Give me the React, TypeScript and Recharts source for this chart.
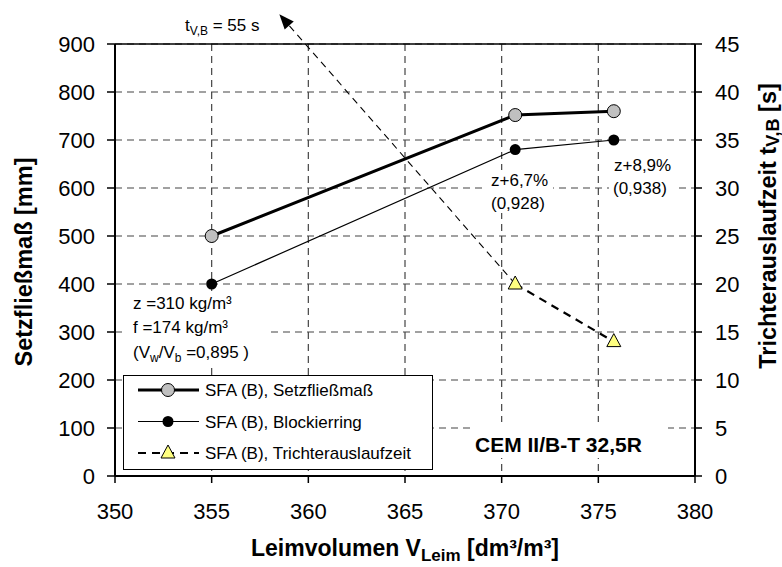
import React from "react";
import {
  ComposedChart,
  Line,
  XAxis,
  YAxis,
  CartesianGrid,
  ReferenceLine,
  Legend,
} from "recharts";

// Leimvolumen V_Leim [dm³/m³]
const leimvolumen = [355, 370.7, 375.8];
// SFA (B), Setzfließmaß [mm]
const setzfliessmass = [500, 752, 760];
// SFA (B), Blockierring [mm]
const blockierring = [400, 680, 700];
// SFA (B), Trichterauslaufzeit [s] (355: 55 s, off the scale)
const trichterauslaufzeit: (number | null)[] = [null, 20, 14];

const xTicks = [350, 355, 360, 365, 370, 375, 380];
const leftTicks = [0, 100, 200, 300, 400, 500, 600, 700, 800, 900];
const rightTicks = [0, 5, 10, 15, 20, 25, 30, 35, 40, 45];

// arrow pointing to t_V,B = 55 s (beyond the axis)
const arrowStart = { x: 370.7, y: 20 };
const arrowEnd = { x: 358.5, y: 48.1 };

const data = leimvolumen.map((v, i) => ({
  v,
  setz: setzfliessmass[i],
  block: blockierring[i],
  trichter: trichterauslaufzeit[i],
}));

const FONT = "'Liberation Sans', Arial, sans-serif";
const tick = { fontSize: 22, fill: "#000", fontFamily: FONT };

const Triangle = (p: any) => {
  if (p.cy == null || p.value == null) return <g key={p.index} />;
  const { cx, cy } = p;
  return (
    <polygon
      key={p.index}
      points={`${cx},${cy - 8} ${cx - 7},${cy + 5} ${cx + 7},${cy + 5}`}
      fill="#ffff80"
      stroke="#000"
      strokeWidth={1}
    />
  );
};

const Arrow = (p: any) => {
  const { x1, y1, x2, y2 } = p;
  const a = Math.atan2(y2 - y1, x2 - x1);
  const len = 15;
  const w = 6;
  const bx = x2 - len * Math.cos(a);
  const by = y2 - len * Math.sin(a);
  return (
    <g>
      <line x1={x1} y1={y1} x2={bx} y2={by} stroke="#000" strokeWidth={1.1} strokeDasharray="7 5" />
      <polygon
        points={`${x2},${y2} ${bx + w * Math.sin(a)},${by - w * Math.cos(a)} ${bx - w * Math.sin(a)},${by + w * Math.cos(a)}`}
        fill="#000"
      />
    </g>
  );
};

const legendItems = [
  { label: "SFA (B), Setzfließmaß", width: 3, dash: undefined, marker: "gray" },
  { label: "SFA (B), Blockierring", width: 1.2, dash: undefined, marker: "black" },
  { label: "SFA (B), Trichterauslaufzeit", width: 2.2, dash: "8 6", marker: "tri" },
];

function LegendBox() {
  return (
    <svg width={310} height={95} style={{ display: "block" }}>
      <rect x={0.5} y={0.5} width={309} height={94} fill="#fff" stroke="#000" strokeWidth={1} />
      {legendItems.map((it, i) => {
        const y = 15 + i * 31.5;
        return (
          <g key={it.label}>
            <line x1={15} x2={76} y1={y} y2={y} stroke="#000" strokeWidth={it.width} strokeDasharray={it.dash} />
            {it.marker === "gray" && <circle cx={45} cy={y} r={6.5} fill="#c0c0c0" stroke="#000" />}
            {it.marker === "black" && <circle cx={45} cy={y} r={5.5} fill="#000" />}
            {it.marker === "tri" && (
              <polygon points={`45,${y - 8} 38,${y + 5} 52,${y + 5}`} fill="#ffff80" stroke="#000" />
            )}
            <text x={82} y={y + 6} fontSize={17} fontFamily={FONT} fill="#000">
              {it.label}
            </text>
          </g>
        );
      })}
    </svg>
  );
}

const XTitle = (p: any) => {
  const vb = p.viewBox;
  return (
    <text x={vb.x + vb.width / 2} y={vb.y + 80} textAnchor="middle" fontSize={23} fontWeight="bold" fontFamily={FONT}>
      Leimvolumen V
      <tspan fontSize={17} dy={5}>Leim</tspan>
      <tspan dy={-5}> [dm³/m³]</tspan>
    </text>
  );
};

const LeftTitle = (p: any) => {
  const vb = p.viewBox;
  const cy = vb.y + vb.height / 2 + 2;
  return (
    <text x={24} y={cy} transform={`rotate(-90 24 ${cy})`} textAnchor="middle" dominantBaseline="central" fontSize={23.5} fontWeight="bold" fontFamily={FONT}>
      Setzfließmaß [mm]
    </text>
  );
};

const RightTitle = (p: any) => {
  const vb = p.viewBox;
  const cy = vb.y + vb.height / 2 - 34;
  const cx = 768;
  return (
    <text x={cx} y={cy} transform={`rotate(-90 ${cx} ${cy})`} textAnchor="middle" dominantBaseline="central" fontSize={23.5} fontWeight="bold" fontFamily={FONT}>
      Trichterauslaufzeit t
      <tspan fontSize={18} dy={5}>V,B</tspan>
      <tspan dy={-5}> [s]</tspan>
    </text>
  );
};

const note = { fontSize: 17, fontFamily: FONT, fill: "#000" };

function Notes() {
  return (
    <svg width={782} height={567} style={{ position: "absolute", left: 0, top: 0, pointerEvents: "none" }}>
      <text x={185} y={31} {...note}>
        t<tspan fontSize={12} dy={4}>V,B</tspan>
        <tspan dy={-4}> = 55 s</tspan>
      </text>
      <rect x={487} y={170} width={66} height={43} fill="#fff" />
      <text x={491} y={186} {...note}>z+6,7%</text>
      <text x={491} y={209} {...note}>(0,928)</text>
      <rect x={609} y={153} width={66} height={45} fill="#fff" />
      <text x={614} y={171} {...note}>z+8,9%</text>
      <text x={613} y={194} {...note}>(0,938)</text>
      <rect x={125} y={292} width={143} height={73} fill="#fff" />
      <text x={133} y={309} {...note}>z =310 kg/m³</text>
      <text x={133} y={333} {...note}>f =174 kg/m³</text>
      <text x={133} y={358} {...note}>
        (V<tspan fontSize={12} dy={4}>w</tspan>
        <tspan dy={-4}>/V</tspan>
        <tspan fontSize={12} dy={4}>b</tspan>
        <tspan dy={-4}> =0,895 )</tspan>
      </text>
      <rect x={470} y={422} width={198} height={36} fill="#fff" />
      <text x={475} y={452} fontSize={21} fontWeight="bold" fontFamily={FONT}>CEM II/B-T 32,5R</text>
    </svg>
  );
}

export default function App() {
  return (
    <div style={{ position: "absolute", left: 0, top: 0, width: 782, height: 567, background: "#fff", fontFamily: FONT }}>
      <ComposedChart width={782} height={567} data={data} margin={{ top: 44, right: 0, bottom: 0, left: 0 }}>
        <CartesianGrid yAxisId="left" stroke="#444" strokeWidth={1.2} strokeDasharray="7 5" />
        <XAxis
          dataKey="v"
          type="number"
          domain={[350, 380]}
          ticks={xTicks}
          height={91}
          tick={tick}
          tickSize={7}
          tickMargin={20}
          axisLine={{ stroke: "#000", strokeWidth: 2 }}
          tickLine={{ stroke: "#000", strokeWidth: 1.5 }}
          label={{ content: XTitle }}
        />
        <YAxis
          yAxisId="left"
          domain={[0, 900]}
          ticks={leftTicks}
          width={115}
          tick={tick}
          tickSize={8}
          tickMargin={12}
          axisLine={{ stroke: "#000", strokeWidth: 2 }}
          tickLine={{ stroke: "#000", strokeWidth: 1.5 }}
          label={{ content: LeftTitle }}
        />
        <YAxis
          yAxisId="right"
          orientation="right"
          domain={[0, 45]}
          ticks={rightTicks}
          width={87}
          tick={tick}
          tickSize={7}
          tickMargin={13}
          axisLine={{ stroke: "#000", strokeWidth: 2 }}
          tickLine={{ stroke: "#000", strokeWidth: 1.5 }}
          label={{ content: RightTitle }}
        />
        <ReferenceLine yAxisId="left" y={900} stroke="#000" strokeWidth={1.5} />
        <ReferenceLine
          yAxisId="right"
          segment={[arrowStart, arrowEnd]}
          ifOverflow="visible"
          shape={Arrow}
        />
        <Line
          yAxisId="left"
          dataKey="setz"
          stroke="#000"
          strokeWidth={3}
          dot={{ r: 6.5, fill: "#c0c0c0", stroke: "#000", strokeWidth: 1 }}
          isAnimationActive={false}
        />
        <Line
          yAxisId="left"
          dataKey="block"
          stroke="#000"
          strokeWidth={1.2}
          dot={{ r: 5.5, fill: "#000", stroke: "#000", strokeWidth: 0 }}
          isAnimationActive={false}
        />
        <Line
          yAxisId="right"
          dataKey="trichter"
          stroke="#000"
          strokeWidth={2.2}
          strokeDasharray="8 6"
          dot={Triangle}
          isAnimationActive={false}
        />
        <Legend
          layout="vertical"
          align="center"
          verticalAlign="middle"
          wrapperStyle={{ left: 123, top: 375, width: 310, height: 95 }}
          content={<LegendBox />}
        />
      </ComposedChart>
      <Notes />
    </div>
  );
}
